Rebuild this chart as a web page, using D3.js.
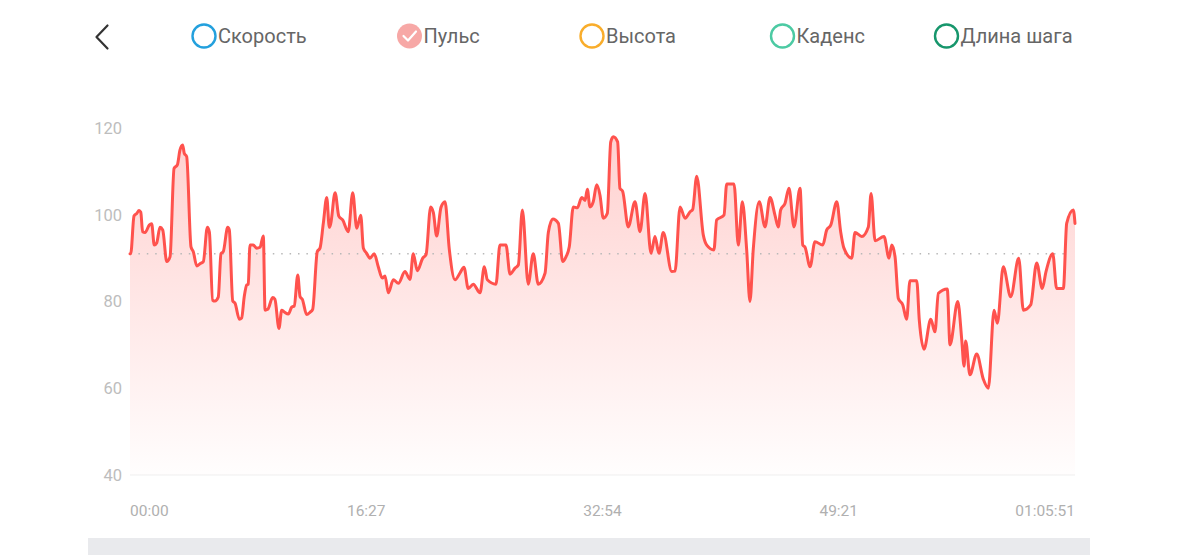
<!DOCTYPE html>
<html><head><meta charset="utf-8">
<script src="https://cdn.jsdelivr.net/npm/d3@7"></script>
<style>html,body{margin:0;padding:0;background:#fff;}svg{display:block;font-family:Roboto,"Noto Sans",sans-serif;}</style>
</head><body>
<svg id="chart" width="1200" height="555"></svg>
<script>
const legendLabels = ["Скорость", "Пульс", "Высота", "Каденс", "Длина шага"];
const legendColors = ["#23a0dd", "#f7a8a6", "#f9ad2b", "#4ccaa3", "#17966c"];
const legendChecked = [false, true, false, false, false];

const yTicks = [40, 60, 80, 100, 120];
const xTickLabels = ["00:00", "16:27", "32:54", "49:21", "01:05:51"];
const totalSeconds = 3951;
const averageHR = 91;

const timeMin = [0,0.05,0.28,0.47,0.63,0.75,0.88,1.05,1.34,1.51,1.69,1.86,2.09,2.28,2.56,2.79,3.07,3.30,3.48,3.67,3.78,3.95,4.25,4.41,4.65,4.88,5.11,5.39,5.53,5.76,5.92,6.15,6.34,6.50,6.81,6.92,7.16,7.32,7.62,7.78,7.96,8.13,8.24,8.36,8.59,8.83,9.06,9.29,9.41,9.60,9.94,10.10,10.38,10.57,10.75,11.03,11.27,11.45,11.69,11.85,12.01,12.31,12.54,12.73,13.05,13.24,13.47,13.71,13.89,13.99,14.29,14.55,14.82,15.21,15.52,15.80,16.08,16.26,16.49,16.72,17.02,17.30,17.58,17.77,18.00,18.35,18.70,19.16,19.51,19.74,20.02,20.40,20.63,20.95,21.14,21.37,21.67,21.95,22.25,22.65,23.00,23.27,23.57,23.92,24.39,24.69,24.90,25.50,25.78,26.20,26.48,26.83,27.06,27.34,27.75,28.10,28.45,28.92,29.15,29.46,29.85,30.15,30.38,30.61,30.89,31.17,31.48,31.71,31.87,32.05,32.28,32.52,32.75,32.98,33.26,33.50,33.68,33.98,34.14,34.33,34.72,35.19,35.54,35.89,36.31,36.58,36.86,37.16,37.75,37.98,38.33,38.68,39.03,39.21,39.49,39.95,40.19,40.69,40.88,41.39,41.58,42.09,42.39,42.67,42.97,43.20,43.43,43.85,44.25,44.60,44.95,45.17,45.34,45.64,45.92,46.27,46.69,46.88,47.04,47.39,47.73,48.27,48.55,48.83,49.25,49.52,49.75,50.29,50.52,50.99,51.45,51.64,51.92,52.54,52.89,53.08,53.31,53.54,53.85,54.12,54.35,54.82,55.00,55.33,55.80,56.09,56.33,56.95,57.14,57.68,57.96,58.12,58.23,58.53,59.00,59.46,59.81,60.21,60.44,60.85,61.37,61.93,62.25,62.76,63.18,63.57,63.83,64.30,64.57,65.04,65.27,65.73,65.85];
const heartRate = [91,91,99.7,100.3,101,100.6,96.1,95.9,97.6,97.9,93,93.5,97.1,96.5,89.2,90.3,110.7,111.5,114.9,116.1,114.2,113.4,92.6,91.5,88.2,88.7,89.2,97.1,96,80.3,80.1,81,91,91.5,97.1,96.5,80.1,79.6,75.9,76.2,81.1,83.8,84,93,93,92.3,92.5,95.1,78,78.2,80.9,80.5,73.8,78,77.6,77.1,78.7,79,86.1,81.1,80.5,77,77.5,78.2,91.5,92.3,98,104,97.1,98,105.1,99.7,98.8,96.1,105.1,96.9,99.9,92.3,91.1,90,91,88,85.4,85.9,82,85,84.2,86.9,85.1,91,87.1,90,90.8,101.8,100.5,95.1,101.7,103,92,85,86.6,87.9,83,84,82,88,85,84,93,93,86.3,87.7,88.4,101.1,84,91,84,86.5,95.9,99,98,89.2,90.3,92.6,101.8,101.6,104,103.3,105.9,101.8,103,106.9,104.5,99.2,100.3,116.8,118,116.8,106.1,105.4,97.2,103,96.1,104.9,91.1,95,91.1,95.9,86.9,87,101.8,99.2,100.7,101.2,108.9,95.3,93,91.9,98.8,99.9,107.1,107.1,93,103,92,80,92,103,97.2,104,99.8,97.2,101.1,102.6,106.1,97.2,106.1,93,92.5,88,93.8,93,96.5,97.6,103,96.1,92.3,90,95.9,95,97.2,104.9,94,95,90,93,90.3,80.7,79.2,75.9,84.8,84.8,75.7,69,75.9,73,81.9,82.9,70,80,71.1,65.1,70.9,63.1,67.9,62.1,60,78,75,88,81.1,90,78,79.2,88.9,83,86.9,91,83,83,98,101.1,98];

const svg = d3.select("#chart");
const plotLeft = 130, plotRight = 1075, plotTop = 128, plotBottom = 475;
const x = d3.scaleLinear().domain([0, totalSeconds / 60]).range([plotLeft, plotRight]);
const y = d3.scaleLinear().domain([40, 120]).range([plotBottom, plotTop]);
const data = timeMin.map((t, i) => ({t, v: heartRate[i]}));

// Header: back chevron
svg.append("path").attr("d", "M107.5,25.5 L96.5,37 L107.5,48.5")
  .attr("fill", "none").attr("stroke", "#333").attr("stroke-width", 2.2).attr("stroke-linecap","round").attr("stroke-linejoin","round");

// Legend
const legendCx = [204, 409.5, 592, 782.5, 946.5];
const lg = svg.append("g");
legendLabels.forEach((lab, i) => {
  const g = lg.append("g");
  if (legendChecked[i]) {
    g.append("circle").attr("cx", legendCx[i]).attr("cy", 36).attr("r", 12.5).attr("fill", legendColors[i]);
    g.append("path").attr("d", `M${legendCx[i]-6},${36} L${legendCx[i]-1.5},${40.5} L${legendCx[i]+6.5},${31.5}`)
      .attr("fill","none").attr("stroke","#fff").attr("stroke-width",2.2).attr("stroke-linecap","round").attr("stroke-linejoin","round");
  } else {
    g.append("circle").attr("cx", legendCx[i]).attr("cy", 36).attr("r", 11.5).attr("fill", "none")
      .attr("stroke", legendColors[i]).attr("stroke-width", 2.4);
  }
  g.append("text").attr("x", legendCx[i] + 14).attr("y", 36).attr("dy", "0.35em")
    .attr("font-size", 20).attr("fill", "#666").text(lab);
});

// gradient
const defs = svg.append("defs");
const grad = defs.append("linearGradient").attr("id", "fillGrad")
  .attr("gradientUnits", "userSpaceOnUse").attr("x1", 0).attr("x2", 0).attr("y1", y(118)).attr("y2", y(40));
grad.append("stop").attr("offset", 0).attr("stop-color", "#ff5a55").attr("stop-opacity", 0.28);
grad.append("stop").attr("offset", 0.55).attr("stop-color", "#ff5a55").attr("stop-opacity", 0.13);
grad.append("stop").attr("offset", 1).attr("stop-color", "#ff5a55").attr("stop-opacity", 0.01);

// y axis labels
const yAxis = d3.axisLeft(y).tickValues(yTicks).tickSize(0).tickPadding(8);
const ya = svg.append("g").attr("transform", `translate(${plotLeft},0)`).call(yAxis);
ya.select(".domain").remove();
ya.selectAll("text").attr("font-size", 16.5).attr("fill", "#bdbdbd").attr("font-family", "Roboto, sans-serif");

// baseline
svg.append("line").attr("x1", plotLeft).attr("x2", plotRight).attr("y1", y(40)).attr("y2", y(40))
  .attr("stroke", "#efefef").attr("stroke-width", 1);

// area
const area = d3.area().x(d => x(d.t)).y0(y(40)).y1(d => y(d.v)).curve(d3.curveMonotoneX);
svg.append("path").datum(data).attr("d", area).attr("fill", "url(#fillGrad)");

// average dotted line
svg.append("line").attr("x1", plotLeft).attr("x2", plotRight - 8).attr("y1", y(averageHR)).attr("y2", y(averageHR))
  .attr("stroke", "#b8b8b8").attr("stroke-width", 1.5).attr("stroke-dasharray", "1.5,6.9");

// line
const line = d3.line().x(d => x(d.t)).y(d => y(d.v)).curve(d3.curveMonotoneX);
svg.append("path").datum(data).attr("d", line).attr("fill", "none")
  .attr("stroke", "#ff524d").attr("stroke-width", 3).attr("stroke-linejoin", "round").attr("stroke-linecap", "round");

// x labels
const xs = d3.scalePoint().domain(xTickLabels).range([plotLeft, plotRight]);
xTickLabels.forEach((lab, i) => {
  const anchor = i === 0 ? "start" : (i === xTickLabels.length - 1 ? "end" : "middle");
  svg.append("text").attr("x", xs(lab)).attr("y", 511).attr("dy", "0.35em")
    .attr("text-anchor", anchor).attr("font-size", 15.5).attr("fill", "#b0b0b0")
    .attr("font-family", "Roboto, sans-serif").text(lab);
});

// bottom gray bar
svg.append("rect").attr("x", 88).attr("y", 538).attr("width", 1002).attr("height", 17).attr("fill", "#e9eaed");
</script>
</body></html>
